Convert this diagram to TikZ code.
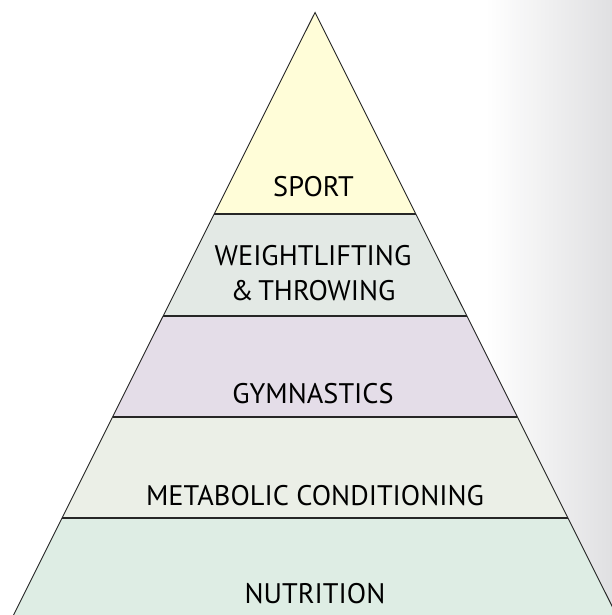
\documentclass[tikz,border=0pt]{standalone}
\usepackage{fontspec}
\setmainfont{PT Sans}
\definecolor{bgR}{RGB}{224,224,226}
\definecolor{cSport}{RGB}{255,253,216}
\definecolor{cWeight}{RGB}{227,233,229}
\definecolor{cGym}{RGB}{228,221,232}
\definecolor{cMeta}{RGB}{235,239,231}
\definecolor{cNutr}{RGB}{222,237,228}
\tikzset{
  lbl/.style={anchor=base, inner sep=0pt, font=\fontsize{28.3}{32}\selectfont, text=black},
  divider/.style={draw=black!85, line width=1.4pt},
  outline/.style={draw=black!85, line width=0.9pt}
}
\begin{document}
\begin{tikzpicture}[x=1pt,y=-1pt]
\useasboundingbox (0,0) rectangle (612,615);
\begin{scope}
\clip (0,0) rectangle (612,615);
\shade[left color=white, right color=bgR] (485,0) rectangle (612,615);
\coordinate (apex) at (315,12.5);
\coordinate (bl) at (13.5,615);
\coordinate (br) at (616.5,615);
\begin{scope}
\clip (apex) -- (bl) -- (br) -- cycle;
\fill[cSport] (0,0) rectangle (620,214);
\fill[cWeight] (0,214) rectangle (620,316);
\fill[cGym] (0,316) rectangle (620,417);
\fill[cMeta] (0,417) rectangle (620,518);
\fill[cNutr] (0,518) rectangle (620,620);
\end{scope}
% dividers
\coordinate (d1l) at (214.25,214); \coordinate (d1r) at (415.75,214);
\coordinate (d2l) at (163.25,316); \coordinate (d2r) at (466.75,316);
\coordinate (d3l) at (112.75,417); \coordinate (d3r) at (517.25,417);
\coordinate (d4l) at (62.25,518); \coordinate (d4r) at (567.75,518);
\draw[divider] (d1l) -- (d1r);
\draw[divider] (d2l) -- (d2r);
\draw[divider] (d3l) -- (d3r);
\draw[divider] (d4l) -- (d4r);
\draw[outline, line join=miter] (bl) -- (apex) -- (br);
\end{scope}
\node[lbl] (sport) at (313.5,196) {SPORT};
\node[lbl] (weight) at (313,265) {WEIGHTLIFTING};
\node[lbl] (throw) at (313,300) {\&\,THROWING};
\node[lbl] (gym) at (313,403) {GYMNASTICS};
\node[lbl] (meta) at (315,505) {METABOLIC CONDITIONING};
\node[lbl] (nutr) at (315,603) {NUTRITION};
\end{tikzpicture}
\end{document}
